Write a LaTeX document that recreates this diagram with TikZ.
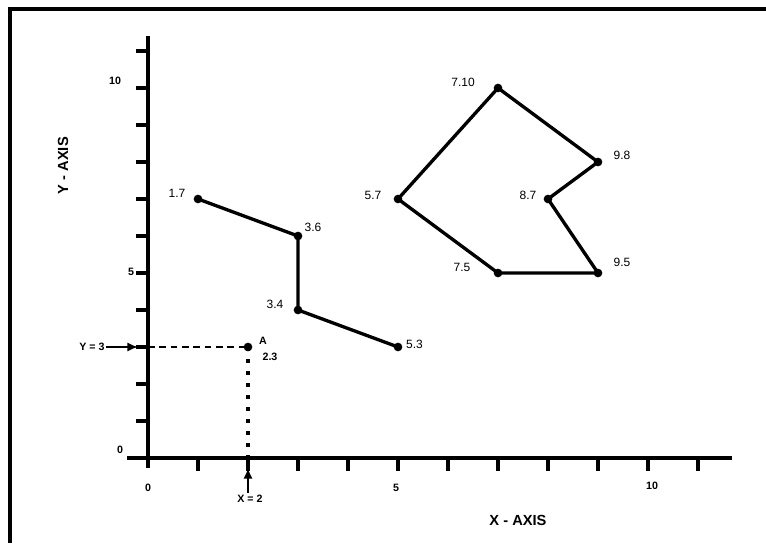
\documentclass[tikz,border=0pt]{standalone}
\usepackage{fontspec}
\setmainfont{Liberation Sans}
\usetikzlibrary{arrows.meta,positioning}
\tikzset{
  dot/.style={circle, fill, inner sep=0pt, minimum size=6.5pt},
  lbl/.style={font=\fontsize{9}{10}\selectfont, inner sep=1pt},
  num/.style={font=\bfseries\fontsize{8}{9}\selectfont, inner sep=1pt},
  axisname/.style={font=\bfseries\fontsize{11}{12}\selectfont, inner sep=1pt},
  edge/.style={line width=2.5pt, line join=round},
  axis/.style={line width=2.6pt},
  xtick/.style={line width=3.2pt},
  ytick/.style={line width=2.3pt},
  arr/.style={-{Latex[length=2.8mm,width=2.4mm]}, line width=1.3pt}
}

\begin{document}
\begin{tikzpicture}[x=0.75pt,y=0.75pt]
\useasboundingbox (0,0) rectangle (766,543);

% Frame (top and left only)
\draw[line width=2.6pt] (10,0) -- (10,534) -- (766,534);

\begin{scope}[shift={(111pt,63.75pt)}, x=37.5pt, y=27.75pt]

% Axes
\coordinate (xl) at (-0.42,0);
\coordinate (xr) at (11.68,0);
\coordinate (yb) at (0,-0.27);
\coordinate (yt) at (0,11.4);
\draw[axis] (xl) -- (xr);
\draw[axis] (yb) -- (yt);

% Ticks
\foreach \i in {1,...,11} {
  \draw[xtick] (\i,0) -- ++(0,-9.75pt);
  \draw[ytick] (0,\i) -- ++(-9pt,0);
}

% Tick labels
\node[num] (y0)  at (-0.56,0.22)  {0};
\node[num] (y5)  at (-0.34,5.03)  {5};
\node[num] (y10) at (-0.66,10.19) {10};
\node[num] (x0)  at (0,-0.81)     {0};
\node[num] (x5)  at (4.96,-0.81)  {5};
\node[num] (x10) at (10.08,-0.76) {10};

% Axis names
\node[axisname] (xname) at (7.4,-1.68) {X - AXIS};
\node[axisname, rotate=90] (yname) at (-1.7,7.9) {Y - AXIS};

% Open line
\node[dot] (p17) at (1,7) {};
\node[dot] (p36) at (3,6) {};
\node[dot] (p34) at (3,4) {};
\node[dot] (p53) at (5,3) {};
\draw[edge] (p17.center) -- (p36.center) -- (p34.center) -- (p53.center);

% Closed figure
\node[dot] (p710) at (7,10) {};
\node[dot] (p98)  at (9,8)  {};
\node[dot] (p87)  at (8,7)  {};
\node[dot] (p95)  at (9,5)  {};
\node[dot] (p75)  at (7,5)  {};
\node[dot] (p57)  at (5,7)  {};
\draw[edge] (p710.center) -- (p98.center) -- (p87.center) -- (p95.center)
  -- (p75.center) -- (p57.center) -- cycle;

% Point labels
\node[lbl] (l17)  at (0.58,7.16)  {1.7};
\node[lbl] (l36)  at (3.3,6.22)   {3.6};
\node[lbl] (l34)  at (2.54,4.14)  {3.4};
\node[lbl] (l53)  at (5.33,3.08)  {5.3};
\node[lbl] (l710) at (6.3,10.14)  {7.10};
\node[lbl] (l98)  at (9.48,8.19)  {9.8};
\node[lbl] (l87)  at (7.6,7.1)    {8.7};
\node[lbl] (l57)  at (4.5,7.1)    {5.7};
\node[lbl] (l75)  at (6.28,5.14)  {7.5};
\node[lbl] (l95)  at (9.48,5.3)   {9.5};

% Point A
\node[dot] (pA) at (2,3) {};
\coordinate (yA) at (0,3);
\coordinate (xA) at (2,0);
\draw[line width=1.6pt, dash pattern=on 5pt off 3.5pt] (yA) -- (pA.center);
\draw[line width=3pt, dash pattern=on 2.8pt off 6.2pt] (pA.center) -- (xA);
\node[num] (lA)  at (2.3,3.16)  {A};
\node[num] (l23) at (2.44,2.73) {2.3};

% Pointers
\node[num] (ylbl) at (-1.12,3) {Y = 3};
\coordinate (ytip) at (-0.2,3);
\draw[arr] (ylbl.east) -- (ytip);
\node[num] (xlbl) at (2.04,-1.11) {X = 2};
\coordinate (xtip) at (2,-0.27);
\coordinate (xfoot) at (2,-0.95);
\draw[arr] (xfoot) -- (xtip);

\end{scope}
\end{tikzpicture}
\end{document}
